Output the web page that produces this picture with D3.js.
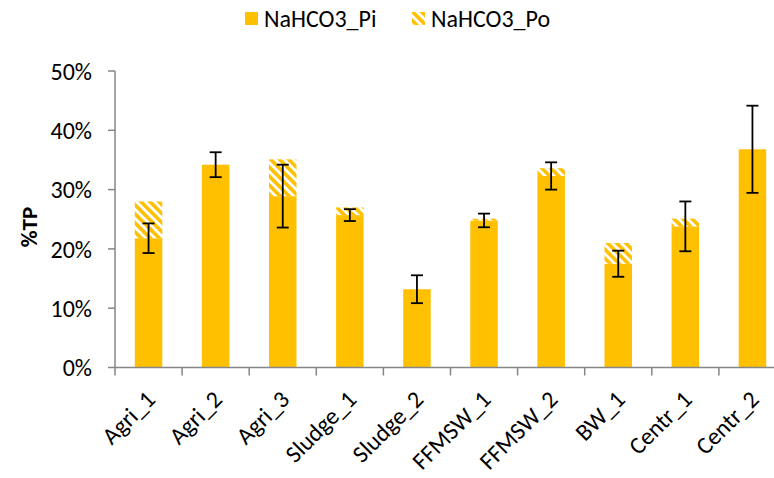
<!DOCTYPE html>
<html>
<head>
<meta charset="utf-8">
<script src="https://cdn.jsdelivr.net/npm/d3@7"></script>
<style>
  body { margin: 0; background: #fff; }
  svg { display: block; font-family: Carlito, Calibri, Lato, sans-serif; }
</style>
</head>
<body>
<div id="chart"></div>
<script>
// values in % of total P
const categories = ["Agri_1", "Agri_2", "Agri_3", "Sludge_1", "Sludge_2",
  "FFMSW_1", "FFMSW_2", "BW_1", "Centr_1", "Centr_2"];
const piValues = [21.8, 34.2, 28.9, 25.7, 13.2, 24.8, 32.3, 17.5, 23.8, 36.8];
const poValues = [6.2, 0, 6.2, 1.3, 0, 0.3, 1.3, 3.5, 1.3, 0];
const piErrors = [2.5, 2.1, 5.3, 1.0, 2.35, 1.15, 2.3, 2.2, 4.2, 7.35];
const yTicks = [0, 10, 20, 30, 40, 50];
const seriesNames = ["NaHCO3_Pi", "NaHCO3_Po"];

const width = 774;
const height = 478;
const yellow = "#FFC000";
const axisColor = "#868686";
const fontSize = 24;

const data = categories.map((c, i) => ({
  cat: c, pi: piValues[i], po: poValues[i], err: piErrors[i]
}));

const svg = d3.select("#chart")
  .append("svg")
  .attr("width", width)
  .attr("height", height);

// diagonal hatch for the Po part
const defs = svg.append("defs");
const pat = defs.append("pattern")
  .attr("id", "hatch")
  .attr("patternUnits", "userSpaceOnUse")
  .attr("width", 6.4)
  .attr("height", 6.4)
  .attr("patternTransform", "rotate(-45)");
pat.append("rect").attr("width", 6.4).attr("height", 6.4).attr("fill", "#fff");
pat.append("rect").attr("width", 3.6).attr("height", 6.4).attr("fill", yellow);

// plot runs past the right edge, like the cropped original
const padInner = 0.59;
const xScale = d3.scaleBand()
  .domain(categories)
  .range([115, 786])
  .paddingInner(padInner)
  .paddingOuter(padInner / 2);

const yScale = d3.scaleLinear()
  .domain([0, 50])
  .range([367.5, 71]);

const gap = (xScale.step() - xScale.bandwidth()) / 2;

// bars
const bars = svg.append("g").attr("id", "bar-group");

bars.selectAll("rect.pi")
  .data(data)
  .enter()
  .append("rect")
  .attr("class", "pi")
  .attr("x", d => xScale(d.cat))
  .attr("y", d => yScale(d.pi))
  .attr("width", xScale.bandwidth())
  .attr("height", d => yScale(0) - yScale(d.pi))
  .attr("fill", yellow);

bars.selectAll("rect.po")
  .data(data.filter(d => d.po > 0))
  .enter()
  .append("rect")
  .attr("class", "po")
  .attr("x", d => xScale(d.cat))
  .attr("y", d => yScale(d.pi + d.po))
  .attr("width", xScale.bandwidth())
  .attr("height", d => yScale(d.pi) - yScale(d.pi + d.po))
  .attr("fill", "url(#hatch)");

// y axis
const yAxis = svg.append("g").attr("id", "y-axis");
yAxis.append("line")
  .attr("x1", 115).attr("x2", 115)
  .attr("y1", yScale(50)).attr("y2", yScale(0))
  .attr("stroke", axisColor).attr("stroke-width", 1.5);

yAxis.selectAll("line.tick")
  .data(yTicks)
  .enter()
  .append("line")
  .attr("class", "tick")
  .attr("x1", 108).attr("x2", 115)
  .attr("y1", d => yScale(d)).attr("y2", d => yScale(d))
  .attr("stroke", axisColor).attr("stroke-width", 1.5);

yAxis.selectAll("text")
  .data(yTicks)
  .enter()
  .append("text")
  .attr("x", 92)
  .attr("y", d => yScale(d))
  .attr("dy", "0.36em")
  .attr("text-anchor", "end")
  .attr("font-size", fontSize)
  .attr("fill", "#000")
  .text(d => d + "%");

svg.append("text")
  .attr("transform", "translate(37,227) rotate(-90)")
  .attr("text-anchor", "middle")
  .attr("font-size", 23)
  .attr("font-weight", "bold")
  .attr("fill", "#000")
  .text("%TP");

// x axis
const xAxis = svg.append("g").attr("id", "x-axis");
xAxis.append("line")
  .attr("x1", 115).attr("x2", 786)
  .attr("y1", yScale(0)).attr("y2", yScale(0))
  .attr("stroke", axisColor).attr("stroke-width", 1.5);

const boundaries = categories.map(c => xScale(c) - gap)
  .concat([xScale(categories[categories.length - 1]) + xScale.bandwidth() + gap]);

xAxis.selectAll("line.tick")
  .data(boundaries)
  .enter()
  .append("line")
  .attr("class", "tick")
  .attr("x1", d => d).attr("x2", d => d)
  .attr("y1", yScale(0)).attr("y2", yScale(0) + 8)
  .attr("stroke", axisColor).attr("stroke-width", 1.5);

xAxis.selectAll("text")
  .data(categories)
  .enter()
  .append("text")
  .attr("transform", d =>
    `translate(${xScale(d) + xScale.bandwidth() / 2 + 8},401) rotate(-45)`)
  .attr("text-anchor", "end")
  .attr("font-size", fontSize)
  .attr("fill", "#000")
  .text(d => d);

// error bars on Pi
const errs = svg.append("g").attr("id", "error-group")
  .attr("stroke", "#000").attr("stroke-width", 1.8);

errs.selectAll("line.stem")
  .data(data)
  .enter()
  .append("line")
  .attr("class", "stem")
  .attr("x1", d => xScale(d.cat) + xScale.bandwidth() / 2)
  .attr("x2", d => xScale(d.cat) + xScale.bandwidth() / 2)
  .attr("y1", d => yScale(d.pi + d.err))
  .attr("y2", d => yScale(d.pi - d.err));

["top", "bottom"].forEach(side => {
  errs.selectAll("line.cap-" + side)
    .data(data)
    .enter()
    .append("line")
    .attr("class", "cap-" + side)
    .attr("x1", d => xScale(d.cat) + xScale.bandwidth() / 2 - 6)
    .attr("x2", d => xScale(d.cat) + xScale.bandwidth() / 2 + 6)
    .attr("y1", d => yScale(side === "top" ? d.pi + d.err : d.pi - d.err))
    .attr("y2", d => yScale(side === "top" ? d.pi + d.err : d.pi - d.err));
});

// legend
const legendX = [245, 412];
const legend = svg.append("g").attr("id", "legend");
legend.selectAll("rect")
  .data(seriesNames)
  .enter()
  .append("rect")
  .attr("x", (d, i) => legendX[i])
  .attr("y", 12)
  .attr("width", 13)
  .attr("height", 13)
  .attr("fill", (d, i) => i === 0 ? yellow : "url(#hatch)");

legend.selectAll("text")
  .data(seriesNames)
  .enter()
  .append("text")
  .attr("x", (d, i) => legendX[i] + 19)
  .attr("y", 27)
  .attr("font-size", fontSize)
  .attr("fill", "#000")
  .text(d => d);
</script>
</body>
</html>
